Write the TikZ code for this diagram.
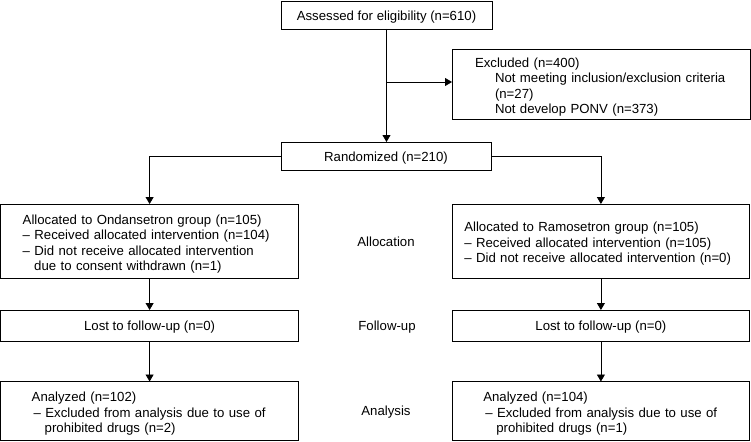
\documentclass[tikz,border=0pt]{standalone}
\usepackage{fontspec}
\setmainfont{Liberation Sans}
\usetikzlibrary{arrows.meta,calc}
\newcommand\tgapm{\rule{0pt}{15.5pt}}
\newcommand\tgaps{\rule{0pt}{13pt}}
\begin{document}
\begin{tikzpicture}[x=1pt,y=-1pt,
  every node/.style={font=\fontsize{13.2}{15.4}\selectfont},
  box/.style={draw, line width=0.9pt, rectangle, inner ysep=0pt, outer sep=0pt, anchor=north west},
  lbox/.style={box, align=left},
  cbox/.style={box, align=center, inner xsep=2pt},
  conn/.style={line width=0.8pt, -{Triangle[length=7pt,width=8pt]}},
  stage/.style={inner sep=0pt}]
\useasboundingbox (0,0) rectangle (751,441);

% top
\node[cbox, minimum width=211pt, minimum height=28pt] (assess) at (281,1) {\tgaps Assessed for eligibility (n=610)};
\node[lbox, text width=252pt, inner xsep=23pt, minimum height=70pt] (excl) at (452,49)
  {\tgapm Excluded (n=400)\\\hspace*{20pt}Not meeting inclusion/exclusion criteria\\\hspace*{20pt}(n=27)\\\hspace*{20pt}Not develop PONV (n=373)};
\node[cbox, minimum width=210pt, minimum height=28pt] (rand) at (281,142) {\tgaps Randomized (n=210)};

% allocation
\node[lbox, text width=253.8pt, inner xsep=22pt, minimum height=74pt] (lalloc) at (0.7,204)
  {\tgapm Allocated to Ondansetron group (n=105)\\– Received allocated intervention (n=104)\\– Did not receive allocated intervention\\\hspace*{11.5pt}due to consent withdrawn (n=1)};
\node[lbox, text width=273.2pt, inner xsep=12pt, minimum height=74pt] (ralloc) at (452.3,204)
  {\tgapm Allocated to Ramosetron group (n=105)\\– Received allocated intervention (n=105)\\– Did not receive allocated intervention (n=0)};

% follow-up
\node[cbox, minimum width=297.8pt, minimum height=31pt] (lfu) at (0.7,310) {\tgaps Lost to follow-up (n=0)};
\node[cbox, minimum width=297.2pt, minimum height=31pt] (rfu) at (452.3,310) {\tgaps Lost to follow-up (n=0)};

% analysis
\node[lbox, text width=235.8pt, inner xsep=31pt, minimum height=58.5pt] (lan) at (0.7,381.5)
  {\tgapm Analyzed (n=102)\\\hspace*{2pt}– Excluded from analysis due to use of\\\hspace*{13pt}prohibited drugs (n=2)};
\node[lbox, text width=235.2pt, inner xsep=31pt, minimum height=58.5pt] (ran) at (452.3,381.5)
  {\tgapm Analyzed (n=104)\\\hspace*{2pt}– Excluded from analysis due to use of\\\hspace*{13pt}prohibited drugs (n=1)};

% stage labels
\node[stage] (sAlloc) at (386,242) {Allocation};
\node[stage] (sFollow) at (387,327) {Follow-up};
\node[stage] (sAnal) at (386,412) {Analysis};

% connectors
\coordinate (br) at (387,82);
\draw[conn] (assess.south) -- (assess.south |- rand.north);
\draw[conn] (br) -- (br -| excl.west);
\draw[conn] (rand.west) -| (lalloc.north);
\draw[conn] (rand.east) -| (ralloc.north);
\draw[conn] (lalloc.south) -- (lfu.north);
\draw[conn] (ralloc.south) -- (rfu.north);
\draw[conn] (lfu.south) -- (lan.north);
\draw[conn] (rfu.south) -- (ran.north);
\end{tikzpicture}
\end{document}
